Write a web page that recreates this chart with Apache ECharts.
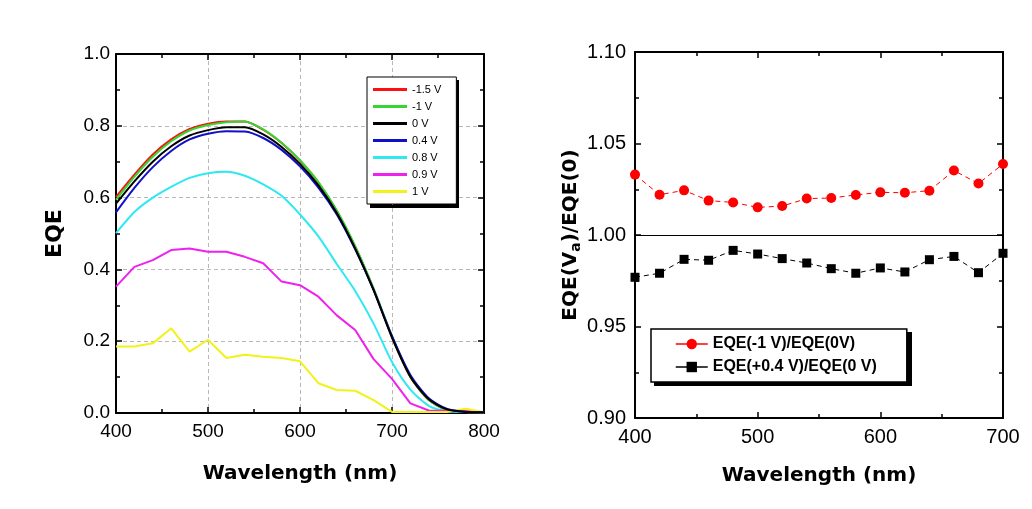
<!DOCTYPE html>
<html>
<head>
<meta charset="utf-8">
<script src="https://cdn.jsdelivr.net/npm/echarts@6/dist/echarts.min.js"></script>
<style>
html,body{margin:0;padding:0;background:#fff;}
#c{width:1032px;height:509px;}
</style>
</head>
<body>
<div id="c"></div>
<script>
// ---------- Left panel: EQE spectra ----------
const wavelengths = [400,420,440,460,480,500,520,540,560,580,600,620,640,660,680,700,720,740,760,780,800];
const seriesNames = ['-1.5 V','-1 V','0 V','0.4 V','0.8 V','0.9 V','1 V'];
const eqeM15 = [0.602,0.664,0.720,0.762,0.791,0.806,0.812,0.812,0.789,0.752,0.703,0.642,0.563,0.463,0.345,0.212,0.100,0.036,0.008,0.003,0.002];
const eqeM10 = [0.594,0.658,0.714,0.757,0.787,0.802,0.810,0.812,0.790,0.753,0.704,0.643,0.564,0.465,0.347,0.214,0.101,0.036,0.008,0.003,0.002];
const eqe00  = [0.583,0.645,0.700,0.743,0.773,0.788,0.796,0.796,0.776,0.741,0.694,0.634,0.557,0.458,0.342,0.210,0.101,0.038,0.010,0.003,0.002];
const eqe04  = [0.559,0.627,0.685,0.730,0.762,0.778,0.785,0.784,0.766,0.733,0.687,0.628,0.553,0.456,0.343,0.214,0.106,0.041,0.011,0.003,0.002];
const eqe08  = [0.501,0.560,0.600,0.630,0.655,0.668,0.672,0.661,0.637,0.605,0.553,0.492,0.415,0.340,0.249,0.142,0.065,0.020,0.005,0.003,0.002];
const eqe09  = [0.352,0.407,0.426,0.454,0.458,0.449,0.449,0.435,0.417,0.366,0.356,0.324,0.272,0.231,0.150,0.095,0.027,0.007,0.006,0.006,0.002];
const eqe10  = [0.185,0.185,0.194,0.236,0.171,0.204,0.153,0.162,0.157,0.153,0.144,0.083,0.064,0.062,0.036,0.003,0.003,0.003,0.003,0.012,0.002];
const seriesColors = ['#ff1010','#33d633','#000000','#1010c8','#2ee8f2','#ee22ee','#f2f21a'];

// ---------- Right panel: EQE ratios ----------
const ratioWavelengths = [400,420,440,460,480,500,520,540,560,580,600,620,640,660,680,700];
const ratioM1 = [1.033,1.022,1.0244,1.0188,1.0178,1.0151,1.0158,1.0199,1.0202,1.0219,1.0233,1.0231,1.0242,1.0352,1.0281,1.0388];
const ratioP04 = [0.9769,0.9791,0.9867,0.9862,0.9916,0.9896,0.9871,0.9847,0.9816,0.9791,0.9820,0.9798,0.9865,0.9883,0.9794,0.9900];
const ratioNames = ['EQE(-1 V)/EQE(0V)','EQE(+0.4 V)/EQE(0 V)'];
const refLine = [1.0];

const lefts = [eqeM15,eqeM10,eqe00,eqe04,eqe08,eqe09,eqe10];
const smoothness = [0.25,0.25,0.25,0.25,0.25,0,0];
const leftZ = [2,3,4,3.5,3,3,3];
const pair = (xs, ys) => xs.map((x,i)=>[x, ys[i]]);

const FONT = 'Liberation Sans, Arial, sans-serif';
const TITLEFONT = 'DejaVu Sans, sans-serif';

function baseAxis(opts){
  return Object.assign({
    type:'value',
    axisLine:{show:true,onZero:false,lineStyle:{color:'#000',width:2}},
    axisTick:{show:true,inside:true,length:6,lineStyle:{color:'#000',width:1.5}},
    minorTick:{show:true,splitNumber:2,length:4,lineStyle:{color:'#000',width:1.5}},
    splitLine:{show:false},
    axisLabel:{show:false},
  }, opts);
}
const labelStyle = {show:true,color:'#000',fontSize:19,fontFamily:FONT};
const nameStyle = {color:'#000',fontSize:20,fontWeight:'bold',fontFamily:TITLEFONT};
const gridDash = {show:true,lineStyle:{color:'#b8b8b8',type:[4,3],width:1}};

const option = {
  animation:false,
  backgroundColor:'#fff',
  grid:[
    {left:116,top:54,width:368,height:359},
    {left:635,top:52,width:368,height:366}
  ],
  graphic:[
    {type:'rect',z:0,shape:{x:370,y:80,width:89,height:128},style:{fill:'#000'}},
    {type:'rect',z:0,shape:{x:654,y:332,width:258,height:54},style:{fill:'#000'}}
  ],
  xAxis:[
    baseAxis({gridIndex:0,position:'bottom',min:400,max:800,interval:100,
      axisLabel:Object.assign({},labelStyle,{margin:9}),splitLine:gridDash,
      name:'Wavelength (nm)',nameLocation:'middle',nameGap:51,nameTextStyle:nameStyle}),
    baseAxis({gridIndex:0,position:'top',min:400,max:800,interval:100}),
    baseAxis({gridIndex:1,position:'bottom',min:400,max:700,interval:100,
      axisLabel:Object.assign({},labelStyle,{margin:9,fontSize:20}),
      name:'Wavelength (nm)',nameLocation:'middle',nameGap:48,nameTextStyle:nameStyle}),
    baseAxis({gridIndex:1,position:'top',min:400,max:700,interval:100})
  ],
  yAxis:[
    baseAxis({gridIndex:0,position:'left',min:0,max:1,interval:0.2,
      axisLabel:Object.assign({},labelStyle,{margin:6,formatter:v=>v.toFixed(1)}),splitLine:gridDash,
      name:'EQE',nameLocation:'middle',nameGap:50,nameTextStyle:Object.assign({},nameStyle,{fontSize:22})}),
    baseAxis({gridIndex:0,position:'right',min:0,max:1,interval:0.2}),
    baseAxis({gridIndex:1,position:'left',min:0.9,max:1.1,interval:0.05,
      axisLabel:Object.assign({},labelStyle,{margin:9,fontSize:20,formatter:v=>v.toFixed(2)}),
      name:'EQE(V{sub|a})/EQE(0)',nameLocation:'middle',nameGap:46,
      nameTextStyle:Object.assign({},nameStyle,{lineHeight:24,rich:{sub:{fontSize:14,fontWeight:'bold',fontFamily:TITLEFONT,lineHeight:14,verticalAlign:'bottom',color:'#000'}}})}),
    baseAxis({gridIndex:1,position:'right',min:0.9,max:1.1,interval:0.05})
  ],
  legend:[
    {
      data:seriesNames.map(n=>({name:n,icon:'rect'})),
      orient:'vertical',left:367,top:77,z:5,
      itemWidth:34,itemHeight:3,itemGap:4,
      padding:[6,15,6,6],
      backgroundColor:'#fff',borderColor:'#000',borderWidth:1,
      textStyle:{fontSize:11,fontFamily:FONT,color:'#000',lineHeight:13},
      selectedMode:false
    },
    {
      data:ratioNames,
      orient:'vertical',left:651,top:329,z:5,
      itemWidth:32,itemHeight:13,itemGap:7,
      padding:[7,30,7,24],
      backgroundColor:'#fff',borderColor:'#000',borderWidth:1.5,
      lineStyle:{type:'solid',width:1.5},
      textStyle:{fontSize:16,fontWeight:'bold',fontFamily:FONT,color:'#000',lineHeight:16},
      selectedMode:false
    }
  ],
  series:[
    ...lefts.map((arr,i)=>({
      type:'line',name:seriesNames[i],xAxisIndex:0,yAxisIndex:0,
      data:pair(wavelengths,arr),symbol:'none',smooth:smoothness[i],
      lineStyle:{color:seriesColors[i],width:2},itemStyle:{color:seriesColors[i]},
      z:leftZ[i]
    })),
    {
      type:'line',name:ratioNames[0],xAxisIndex:2,yAxisIndex:2,
      data:pair(ratioWavelengths,ratioM1),
      symbol:'circle',symbolSize:10,
      lineStyle:{color:'#ff0000',width:1,type:[5,4]},itemStyle:{color:'#ff0000'},
      markLine:{silent:true,symbol:'none',label:{show:false},animation:false,
        lineStyle:{color:'#000',width:1,type:'solid'},
        data:refLine.map(v=>({yAxis:v}))}
    },
    {
      type:'line',name:ratioNames[1],xAxisIndex:2,yAxisIndex:2,
      data:pair(ratioWavelengths,ratioP04),
      symbol:'rect',symbolSize:9,
      lineStyle:{color:'#000',width:1,type:[5,4]},itemStyle:{color:'#000'}
    }
  ]
};

const chart = echarts.init(document.getElementById('c'), null, {renderer:'canvas'});
chart.setOption(option);
</script>
</body>
</html>
